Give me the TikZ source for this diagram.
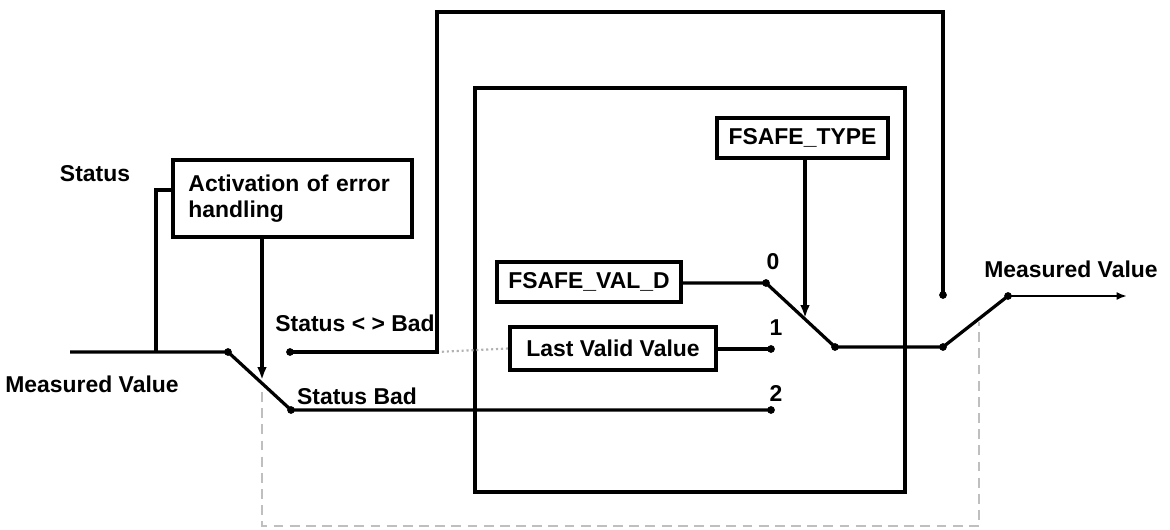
\documentclass[tikz,border=0pt]{standalone}
\usepackage{fontspec}
\setmainfont{Liberation Sans}
\usetikzlibrary{arrows.meta}
\tikzset{
  wire/.style={line width=2.3pt},
  frame/.style={line width=3pt},
  blk/.style={draw,line width=3pt,inner sep=0pt,font=\bfseries\fontsize{16.3}{19}\selectfont},
  lbl/.style={font=\bfseries\fontsize{16.3}{19}\selectfont,inner sep=0pt},
  guide/.style={gray!50,line width=1.6pt,dash pattern=on 7pt off 4.5pt},
  pin/.style={circle,fill,inner sep=0pt,minimum size=5.5pt},
  >={Latex[length=3.2mm,width=2.4mm]}
}
\begin{document}
\begin{tikzpicture}[x=0.025cm,y=-0.025cm]
\useasboundingbox (0,0) rectangle (1170,530);
% boxes
\node[blk,minimum width=59.75mm,minimum height=19.25mm,align=left,text width=52mm] (act) at (292.5,198.5) {Activation of error\\handling};
\node[blk,minimum width=42.75mm,minimum height=10mm] (ftype) at (802.5,138) {FSAFE\_TYPE};
\node[blk,minimum width=46mm,minimum height=10mm] (fval) at (589,282) {FSAFE\_VAL\_D};
\node[blk,minimum width=51.5mm,minimum height=10.75mm] (lvv) at (613,348.5) {Last Valid Value};
\draw[frame] (475,88) rectangle (905,492);
% switch points
\coordinate (mvin) at (70,352);
\coordinate (stT) at (156,352);
\coordinate (stC) at (156,190);
\coordinate (actA) at (262,237);
\coordinate (actT) at (262,380);
\coordinate (swA) at (228,352);
\coordinate (okA) at (290,352);
\coordinate (badA) at (291,410);
\coordinate (loopL) at (437,352);
\coordinate (loopTL) at (437,12);
\coordinate (loopTR) at (943,12);
\coordinate (loopR) at (943,295);
\coordinate (in0) at (766,283);
\coordinate (in1) at (771,349);
\coordinate (in2) at (771,410);
\coordinate (ftA) at (805,158);
\coordinate (ftT) at (805,318);
\coordinate (swB) at (835,347);
\coordinate (swC) at (943,347);
\coordinate (outC) at (1008,296);
\coordinate (mvout) at (1127,296);
% dashed guides
\draw[guide] (262,392) -- (262,526) -- (979,526) -- (979,322);
\draw[gray!60,line width=1.5pt,dotted] (loopL) -- (lvv.west);
% wires
\draw[wire] (mvin) -- (swA) -- (badA) -- (in2);
\draw[wire] (stT) -- (stC) -- (act.west |- stC);
\draw[wire,->] (actA) -- (actT);
\draw[wire] (okA) -- (loopL) -- (loopTL) -- (loopTR) -- (loopR);
\draw[wire] (fval.east |- in0) -- (in0) -- (swB) -- (swC) -- (outC);
\draw[wire] (lvv.east |- in1) -- (in1);
\draw[wire,->] (ftA) -- (ftT);
\draw[line width=1.5pt,-{Latex[length=2.6mm,width=2mm]}] (outC) -- (mvout);
\foreach \p in {swA,okA,badA,in0,in1,in2,swB,swC,loopR,outC}
  \node[pin] at (\p) {};
% labels
\node[lbl] (lstat) at (95,174) {Status};
\node[lbl] (lmvin) at (92,384) {Measured Value};
\node[lbl] (lok) at (355,323) {Status < > Bad};
\node[lbl] (lbad) at (357,396) {Status Bad};
\node[lbl] (l0) at (773,262) {0};
\node[lbl] (l1) at (776,328) {1};
\node[lbl] (l2) at (776,393) {2};
\node[lbl] (lmvout) at (1071,269) {Measured Value};
\end{tikzpicture}
\end{document}
